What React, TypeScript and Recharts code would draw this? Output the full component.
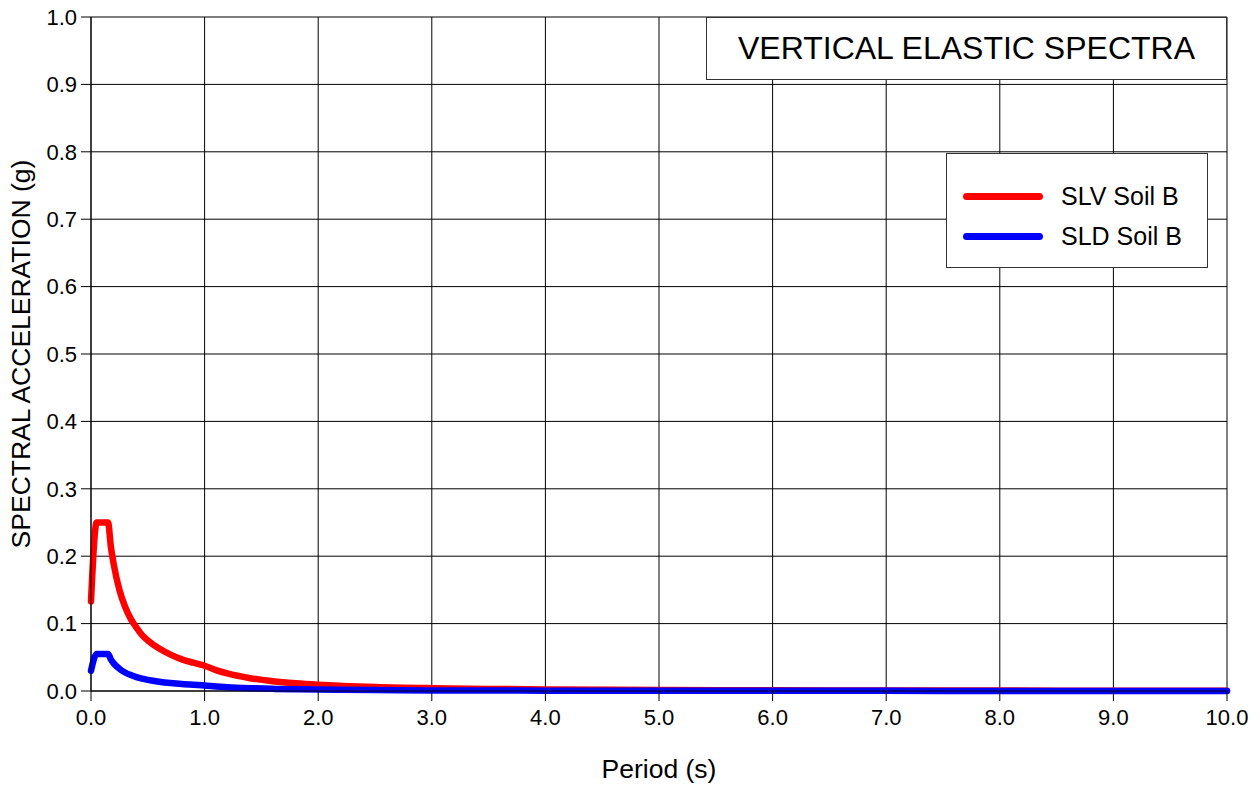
import React from 'react';
import { LineChart, Line, XAxis, YAxis, CartesianGrid } from 'recharts';

// periods (s)
const periods = [0, 0.05, 0.1, 0.15, 0.175, 0.2, 0.25, 0.3, 0.35, 0.4, 0.45, 0.5, 0.6, 0.7, 0.8, 0.9, 1.0, 1.1, 1.2, 1.4, 1.6, 1.8, 2.0, 2.5, 3.0, 3.5, 4.0, 5.0, 6.0, 7.0, 8.0, 9.0, 10.0];

// SLV Soil B (g)
const slvValues = [0.133, 0.25, 0.25, 0.25, 0.214, 0.188, 0.15, 0.125, 0.107, 0.094, 0.083, 0.075, 0.063, 0.054, 0.047, 0.042, 0.0375, 0.031, 0.026, 0.019, 0.0146, 0.0116, 0.0094, 0.006, 0.0042, 0.0031, 0.0023, 0.0015, 0.001, 0.0008, 0.0006, 0.0005, 0.0004];

// SLD Soil B (g)
const sldValues = [0.03, 0.055, 0.055, 0.055, 0.047, 0.041, 0.033, 0.0275, 0.0236, 0.0206, 0.0183, 0.0165, 0.0138, 0.0118, 0.0103, 0.0092, 0.0083, 0.0068, 0.0057, 0.0042, 0.0032, 0.0025, 0.0021, 0.0013, 0.0009, 0.0007, 0.0005, 0.0003, 0.0002, 0.0002, 0.0001, 0.0001, 0.0001];

const xTicks = [0, 1, 2, 3, 4, 5, 6, 7, 8, 9, 10];
const yTicks = [0, 0.1, 0.2, 0.3, 0.4, 0.5, 0.6, 0.7, 0.8, 0.9, 1.0];

const legendItems = [
  { name: 'SLV Soil B', color: '#ff0000' },
  { name: 'SLD Soil B', color: '#0000ff' },
];

const data = periods.map((t, i) => ({ t, slv: slvValues[i], sld: sldValues[i] }));

const font = '"Liberation Sans", Arial, sans-serif';

export default function App() {
  return (
    <div style={{ position: 'absolute', left: 0, top: 0, width: 1260, height: 785, background: '#fff', fontFamily: font }}>
      <LineChart width={1260} height={785} data={data} margin={{ top: 17, right: 33, bottom: 0, left: 0 }}>
        <CartesianGrid stroke="#000" strokeWidth={1} />
        <XAxis
          dataKey="t"
          type="number"
          domain={[0, 10]}
          ticks={xTicks}
          tickFormatter={(v: number) => v.toFixed(1)}
          height={94}
          tickSize={10}
          tickMargin={8}
          stroke="#000"
          tick={{ fontSize: 22, fill: '#000', fontFamily: font }}
          label={{ value: 'Period (s)', position: 'insideBottom', offset: 7, style: { fontSize: 26.5, fill: '#000', fontFamily: font } }}
        />
        <YAxis
          type="number"
          domain={[0, 1]}
          ticks={yTicks}
          tickFormatter={(v: number) => v.toFixed(1)}
          width={91}
          tickSize={10}
          tickMargin={4}
          stroke="#000"
          tick={{ fontSize: 22, fill: '#000', fontFamily: font }}
          label={{ value: 'SPECTRAL ACCELERATION (g)', angle: -90, position: 'insideLeft', offset: 21, style: { textAnchor: 'middle', fontSize: 26.5, fill: '#000', fontFamily: font } }}
        />
        <Line type="monotone" dataKey="slv" stroke="#ff0000" strokeWidth={6.5} dot={false} isAnimationActive={false} strokeLinejoin="round" strokeLinecap="round" />
        <Line type="monotone" dataKey="sld" stroke="#0000ff" strokeWidth={6.5} dot={false} isAnimationActive={false} strokeLinejoin="round" strokeLinecap="round" />
      </LineChart>

      <div style={{ position: 'absolute', left: 706, top: 17, width: 521, height: 63, border: '1px solid #333', background: '#fff', boxSizing: 'border-box', display: 'flex', alignItems: 'center', justifyContent: 'center', fontSize: 32, color: '#000' }}>
        VERTICAL ELASTIC SPECTRA
      </div>

      <div style={{ position: 'absolute', left: 946, top: 153, width: 262, height: 115, border: '1px solid #333', background: '#fff', boxSizing: 'border-box' }}>
        {legendItems.map((it, i) => (
          <div key={it.name} style={{ position: 'absolute', left: 16, top: 27 + i * 40, height: 30, display: 'flex', alignItems: 'center' }}>
            <div style={{ width: 80, height: 7, borderRadius: 3.5, background: it.color }} />
            <span style={{ marginLeft: 18, fontSize: 25, color: '#000', whiteSpace: 'nowrap' }}>{it.name}</span>
          </div>
        ))}
      </div>
    </div>
  );
}
